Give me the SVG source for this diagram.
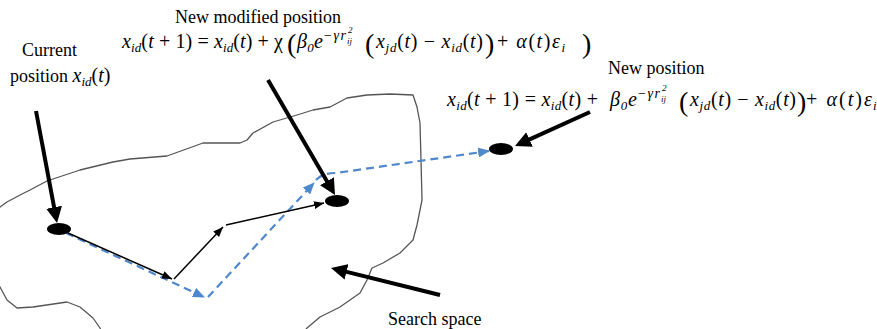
<svg xmlns="http://www.w3.org/2000/svg" width="877" height="329" viewBox="0 0 877 329">
<style>
  text{font-family:"Liberation Serif","Times New Roman",serif;fill:#000}
  .lbl{font-size:18px}
  .m{font-size:20px}
  .i{font-style:italic}
  .sb{font-size:13px;font-style:italic}
  .sp{font-size:14px}
  .ss{font-size:9px;font-style:italic}
  .big{font-size:28px}
  .thick{stroke:#000;stroke-width:4;fill:none;marker-end:url(#hThick)}
  .thin{stroke:#000;stroke-width:1.5;fill:none;marker-end:url(#hThin)}
  .dash{stroke:#4f88cc;stroke-width:2.2;fill:none;stroke-dasharray:8 5;marker-end:url(#hBlue)}
  .node{fill:#000}
  .space{fill:none;stroke:#555;stroke-width:1.3;stroke-linejoin:round}
</style>
<defs>
  <marker id="hThick" viewBox="0 0 16 16" refX="6" refY="8" markerWidth="16" markerHeight="16" orient="auto" markerUnits="userSpaceOnUse"><path d="M0,0 L16,8 L0,16 Z" fill="#000"/></marker>
  <marker id="hThin" viewBox="0 0 10 8" refX="10" refY="4" markerWidth="10" markerHeight="8" orient="auto" markerUnits="userSpaceOnUse"><path d="M0,0 L10,4 L0,8 Z" fill="#000"/></marker>
  <marker id="hBlue" viewBox="0 0 12 10" refX="11" refY="5" markerWidth="12" markerHeight="10" orient="auto" markerUnits="userSpaceOnUse"><path d="M0,0 L12,5 L0,10 Z" fill="#4f88cc"/></marker>
</defs>
<rect width="877" height="329" fill="#fff"/>

<g id="search-space">
  <path class="space" d="M-5,212 L0,207 L7,202 L20,195 L30,190 L47,181 L80,170 L113,162 L130,159 L167,156 L203,143 L240,143 L247,140 L253,133 L273,122 L297,115 L313,110 L330,107 L347,98 L367,95 L390,94 L413,95 L417,107 L420,123 L421,160 L422,200 L420,210 L417,225 L413,240 L400,253 L383,263 L372,268 L367,280 L360,293 L340,307 L320,317 L307,328 L303,333"/>
  <path class="space" d="M102,333 L100,328 L93,318 L80,307 L67,302 L33,307 L17,308 L7,300 L0,287 L-5,280"/>
  <text class="lbl" x="388" y="325">Search space</text>
</g>

<g id="connectors">
  <line class="dash" x1="66" y1="233" x2="204" y2="297"/>
  <line class="dash" x1="208" y1="297" x2="314" y2="183"/>
  <path class="dash" d="M316,180 Q322,173 336,173 L489,151"/>
  <line class="thin" x1="68" y1="233" x2="172" y2="279"/>
  <line class="thin" x1="174" y1="279" x2="223" y2="227"/>
  <line class="thin" x1="226" y1="225" x2="324" y2="203"/>
  <line class="thick" x1="36" y1="111" x2="55.2" y2="213.2"/>
  <line class="thick" x1="268" y1="80" x2="330" y2="186.4"/>
  <line class="thick" x1="590" y1="112" x2="524.1" y2="141.9"/>
  <line class="thick" x1="440" y1="295" x2="340.7" y2="270.4"/>
</g>

<g id="current">
  <ellipse class="node" cx="59" cy="229" rx="12" ry="6"/>
  <text class="lbl" x="22" y="56">Current</text>
  <text class="lbl" x="10" y="82">position <tspan class="m i">x</tspan><tspan class="sb" dy="4">id</tspan><tspan class="m" dy="-4">(</tspan><tspan class="m i">t</tspan><tspan class="m">)</tspan></text>
</g>

<g id="modified">
  <ellipse class="node" cx="337" cy="201" rx="12" ry="6"/>
  <text class="lbl" x="175" y="23">New modified position</text>
  <text class="m" x="122" y="48" textLength="161" lengthAdjust="spacing"><tspan class="i">x</tspan><tspan class="sb" dy="4">id</tspan><tspan dy="-4">(</tspan><tspan class="i">t</tspan> + 1) = <tspan class="i">x</tspan><tspan class="sb" dy="4">id</tspan><tspan dy="-4">(</tspan><tspan class="i">t</tspan>) + χ</text>
  <text class="big" x="287" y="53">(</text>
  <text class="m" x="297" y="48" textLength="26" lengthAdjust="spacing"><tspan class="i">β</tspan><tspan class="sb" dy="4">0</tspan><tspan class="i" dy="-4">e</tspan></text>
  <text class="sp" x="324" y="40" textLength="22" lengthAdjust="spacing">−<tspan class="i">γr</tspan></text>
  <text class="ss" x="348" y="33">2</text>
  <text class="ss" x="347" y="44">ij</text>
  <text class="big" x="365" y="53">(</text>
  <text class="m" x="376" y="48" textLength="107" lengthAdjust="spacing"><tspan class="i">x</tspan><tspan class="sb" dy="4">jd</tspan><tspan dy="-4">(</tspan><tspan class="i">t</tspan>) − <tspan class="i">x</tspan><tspan class="sb" dy="4">id</tspan><tspan dy="-4">(</tspan><tspan class="i">t</tspan>)</text>
  <text class="big" x="485" y="53">)</text>
  <text class="m" x="497" y="48" textLength="68" lengthAdjust="spacing">+ <tspan class="i">α</tspan>(<tspan class="i">t</tspan>)<tspan class="i">ε</tspan><tspan class="sb" dy="4">i</tspan></text>
  <text class="big" x="582" y="53">)</text>
</g>

<g id="new">
  <ellipse class="node" cx="501" cy="149" rx="12" ry="6"/>
  <text class="lbl" x="608" y="74">New position</text>
  <text class="m" x="447" y="106" textLength="151" lengthAdjust="spacing"><tspan class="i">x</tspan><tspan class="sb" dy="4">id</tspan><tspan dy="-4">(</tspan><tspan class="i">t</tspan> + 1) = <tspan class="i">x</tspan><tspan class="sb" dy="4">id</tspan><tspan dy="-4">(</tspan><tspan class="i">t</tspan>) +</text>
  <text class="m" x="610" y="106" textLength="27" lengthAdjust="spacing"><tspan class="i">β</tspan><tspan class="sb" dy="4">0</tspan><tspan class="i" dy="-4">e</tspan></text>
  <text class="sp" x="638" y="98" textLength="22" lengthAdjust="spacing">−<tspan class="i">γr</tspan></text>
  <text class="ss" x="662" y="91">2</text>
  <text class="ss" x="661" y="102">ij</text>
  <text class="big" x="679" y="111">(</text>
  <text class="m" x="690" y="106" textLength="106" lengthAdjust="spacing"><tspan class="i">x</tspan><tspan class="sb" dy="4">jd</tspan><tspan dy="-4">(</tspan><tspan class="i">t</tspan>) − <tspan class="i">x</tspan><tspan class="sb" dy="4">id</tspan><tspan dy="-4">(</tspan><tspan class="i">t</tspan>)</text>
  <text class="big" x="797" y="111">)</text>
  <text class="m" x="806" y="106" textLength="66" lengthAdjust="spacing">+ <tspan class="i">α</tspan>(<tspan class="i">t</tspan>)<tspan class="i">ε</tspan></text>
  <text class="sb" x="873" y="110">i</text>
</g>
</svg>
